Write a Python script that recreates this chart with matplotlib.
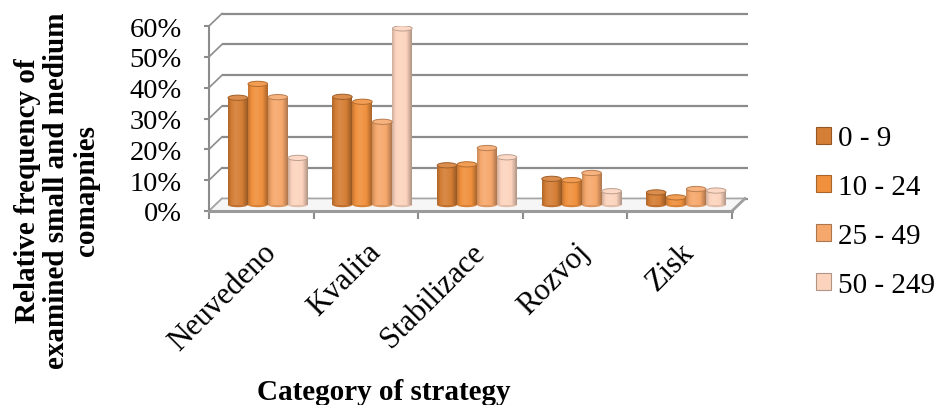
import numpy as np
import matplotlib
matplotlib.use("Agg")
import matplotlib.pyplot as plt
from matplotlib.colors import LinearSegmentedColormap, to_rgb
from matplotlib.patches import Ellipse, Polygon, Patch

plt.rcParams['font.family'] = ['Liberation Serif', 'DejaVu Serif']

# ---- data ----
categories = ["Neuvedeno", "Kvalita", "Stabilizace", "Rozvoj", "Zisk"]
series_names = ["0 - 9", "10 - 24", "25 - 49", "50 - 249"]
s_0_9 = [34.7, 35.0, 12.8, 8.4, 4.0]
s_10_24 = [39.2, 33.4, 13.1, 8.0, 2.4]
s_25_49 = [34.9, 26.9, 18.4, 10.3, 5.1]
s_50_249 = [15.2, 57.2, 15.4, 4.4, 4.6]
series = [s_0_9, s_10_24, s_25_49, s_50_249]
yticks = [0, 10, 20, 30, 40, 50, 60]
colors = ["#D57E35", "#F0903D", "#F6A86C", "#FCD4BE"]

W, H = 938, 406
fig = plt.figure(figsize=(W / 100, H / 100), dpi=100)
ax = fig.add_axes([209 / W, 1 - 212 / H, 523 / W, 185 / H])
ax.set_xlim(-0.5, 4.5)
ax.set_ylim(0, 60)

px_x = 523 / 5.0      # pixels per category
px_y = 185 / 60.0     # pixels per percent
DX = 13 / px_x        # depth offset in data units
DY = 12.5 / px_y
BW = 20 / px_x        # bar width
GRID = "#8c8c8c"


def mix(c, t, f):
    c = np.array(to_rgb(c)); t = np.array(to_rgb(t))
    return tuple(c + (t - c) * f)

# back wall gridlines + side diagonals
for v in yticks:
    ax.plot([-0.5 + DX, 4.5 + DX + 0.03], [v + DY, v + DY], color=GRID, lw=1.6,
            clip_on=False, zorder=1, solid_capstyle='butt')
    ax.plot([-0.5, -0.5 + DX], [v, v + DY], color=GRID, lw=1.2, clip_on=False, zorder=1)

# floor
floor = Polygon([(-0.5, 0), (4.5, 0), (4.5 + DX, DY), (-0.5 + DX, DY)], closed=True,
                facecolor="#f6f6f6", edgecolor="#a6a6a6", lw=1.2, clip_on=False, zorder=1.5)
ax.add_patch(floor)
ax.plot([4.5, 4.5 + DX], [0, DY], color="#a0a0a0", lw=2.0, clip_on=False, zorder=1.6)

# bars (cylinders)
grad = np.linspace(0, 1, 64).reshape(1, -1)
for si, (vals, col) in enumerate(zip(series, colors)):
    cmap = LinearSegmentedColormap.from_list(
        f"c{si}", [(0.0, mix(col, "black", 0.18)), (0.18, col),
                   (0.38, mix(col, "white", 0.10)), (0.72, col),
                   (1.0, mix(col, "black", 0.30))])
    xs = np.arange(len(categories)) + DX / 2 + (si - 1.5) * BW
    bars = ax.bar(xs, vals, width=BW, bottom=DY / 2, color=col, lw=0, zorder=3)
    for b in bars:
        x0, y0, w, h = b.get_x(), b.get_y(), b.get_width(), b.get_height()
        ax.imshow(grad, cmap=cmap, extent=[x0, x0 + w, y0, y0 + h], aspect='auto',
                  zorder=3.1, interpolation='bilinear')
        ax.add_patch(Ellipse((x0 + w / 2, y0), w, 1.6, facecolor=mix(col, "black", 0.1),
                             lw=0, zorder=3.0))
        ax.add_patch(Ellipse((x0 + w / 2, y0 + h), w * 0.98, 1.7,
                             facecolor=mix(col, "white", 0.12),
                             edgecolor=mix(col, "black", 0.25), lw=0.7, zorder=3.2))

ax.set_xlim(-0.5, 4.5)
ax.set_ylim(0, 60)

# axes styling
for s in ["top", "right"]:
    ax.spines[s].set_visible(False)
ax.spines["left"].set_color(GRID)
ax.spines["left"].set_linewidth(1.5)
ax.spines["bottom"].set_color("#9a9a9a")
ax.spines["bottom"].set_linewidth(2.2)
ax.spines["bottom"].set_zorder(4)
ax.patch.set_visible(False)

ax.set_yticks(yticks)
ax.set_yticklabels([f"{v}%" for v in yticks])
ax.tick_params(axis='y', length=3.6, width=1.5, color=GRID, pad=16, labelsize=20.5)

ax.set_xticks(range(len(categories)))
ax.set_xticklabels(categories, rotation=45, ha='right', va='top', rotation_mode='anchor')
ax.set_xticks(np.arange(-0.5, len(categories) + 0.5, 1), minor=True)
ax.tick_params(axis='x', which='major', length=0, pad=19, labelsize=22)
ax.tick_params(axis='x', which='minor', length=6, width=1.5, color=GRID)
for lab in ax.get_xticklabels():
    lab.set_x(lab.get_position()[0])

fig.text(384 / W, 1 - 400 / H, "Category of strategy", ha='center', va='baseline',
         fontsize=21, fontweight='bold')
fig.text(57 / W, 1 - 191 / H, "Relative frequency of\nexamined small and medium\ncomapnies",
         rotation=90, ha='center', va='center', fontsize=21, fontweight='bold',
         multialignment='center', linespacing=1.1)

handles = [Patch(facecolor=c, edgecolor=mix(c, "black", 0.3), lw=0.8) for c in colors]
fig.legend(handles, series_names, loc='center left', bbox_to_anchor=(816 / W, 1 - 212.5 / H),
           frameon=False, fontsize=21, handlelength=0.52, handleheight=0.52,
           handletextpad=0.25, labelspacing=0.78, borderpad=0, borderaxespad=0)

fig.savefig("out.png", dpi=100)
